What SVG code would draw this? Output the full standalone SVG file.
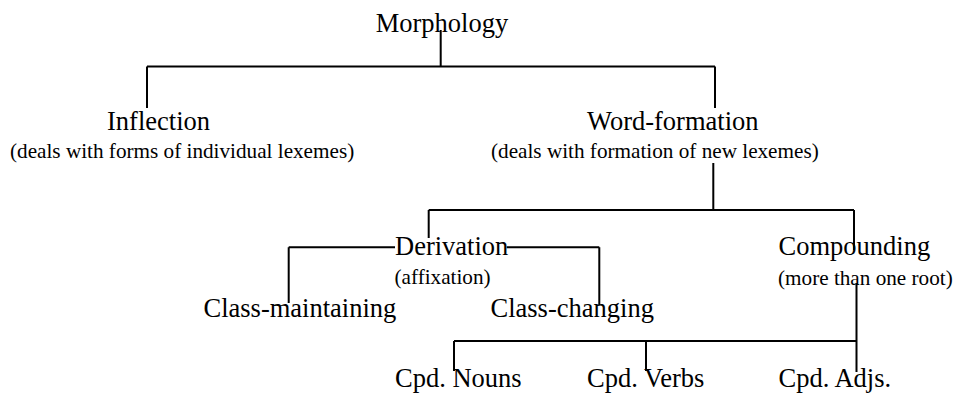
<svg xmlns="http://www.w3.org/2000/svg" width="954" height="393" viewBox="0 0 954 393">
<style>
.t { font-size: 26.5px; }
.s { font-size: 21.2px; }
.c { fill: none; stroke: #000; stroke-width: 2; }
</style>
<rect width="954" height="393" fill="#fff"/>
<g id="connectors">
<path class="c" d="M440.7,30 V66.5 M147,66.5 H715 M147,66.5 V108 M715,66.5 V108"/>
<path class="c" d="M713.3,163 V210 M428.7,210 H854 M428.7,210 V238 M854,210 V250"/>
<path class="c" d="M288.7,247.3 H395 M288.7,247.3 V303 M506.7,247.3 H599.3 M599.3,247.3 V305"/>
<path class="c" d="M856.5,283 V372 M454,341 H856.5 M454,341 V371 M646,341 V371"/>
</g>
<g font-family="'Liberation Serif', 'Times New Roman', serif" fill="#000">
<g id="morphology"><text class="t" x="375.7" y="32">Morphology</text></g>
<g id="inflection"><text class="t" x="107" y="130">Inflection</text><text class="s" x="10" y="158">(deals with forms of individual lexemes)</text></g>
<g id="word-formation"><text class="t" x="587" y="130">Word-formation</text><text class="s" x="491" y="158">(deals with formation of new lexemes)</text></g>
<g id="derivation"><text class="t" x="395" y="255">Derivation</text><text class="s" x="394.5" y="284">(affixation)</text></g>
<g id="compounding"><text class="t" x="778.5" y="255">Compounding</text><text class="s" x="778" y="285">(more than one root)</text></g>
<g id="class-maintaining"><text class="t" x="203.5" y="317">Class-maintaining</text></g>
<g id="class-changing"><text class="t" x="490.5" y="317">Class-changing</text></g>
<g id="cpd-nouns"><text class="t" x="395" y="387">Cpd. Nouns</text></g>
<g id="cpd-verbs"><text class="t" x="587" y="387">Cpd. Verbs</text></g>
<g id="cpd-adjs"><text class="t" x="778.5" y="387">Cpd. Adjs.</text></g>
</g>
</svg>
